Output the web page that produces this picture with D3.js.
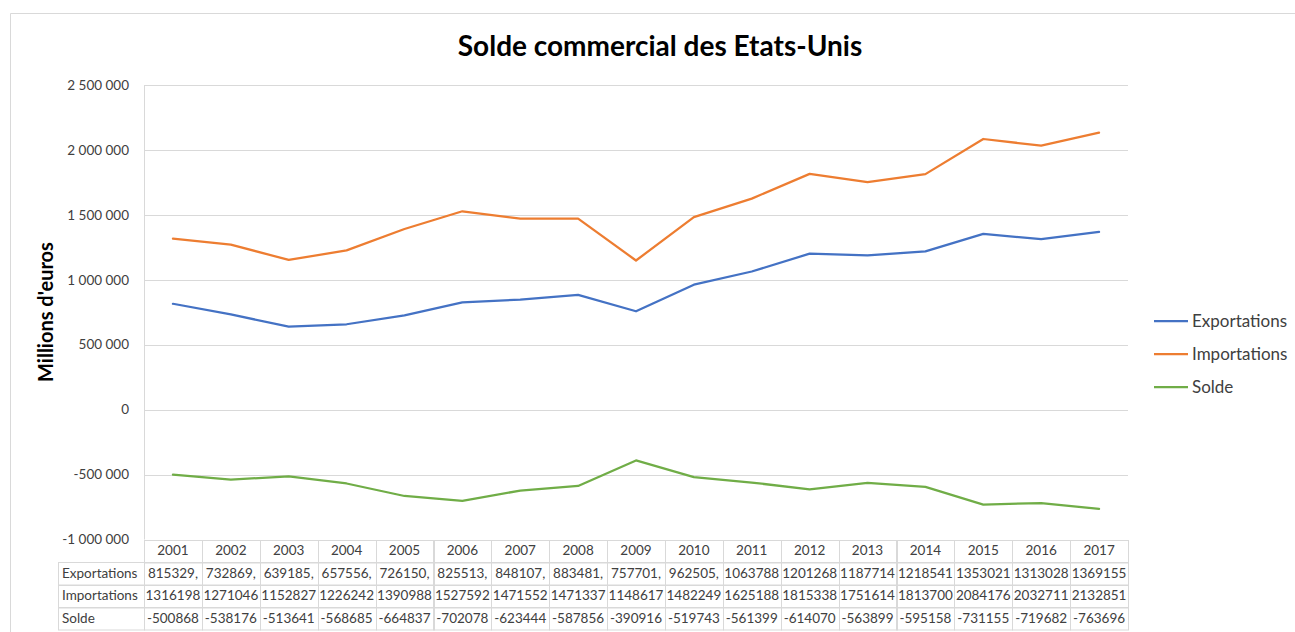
<!DOCTYPE html>
<html>
<head>
<meta charset="utf-8">
<script src="https://cdn.jsdelivr.net/npm/d3@7"></script>
<style>
  body { margin: 0; background: #fff; }
  svg { font-family: Lato, "Open Sans", sans-serif; }
  .grid line { stroke: #d9d9d9; stroke-width: 1; }
  .tick-label { font-size: 13.5px; fill: #404040; }
  .cell { font-size: 13.5px; fill: #404040; }
  .legend-label { font-size: 17px; fill: #404040; }
</style>
</head>
<body>
<svg id="chart"></svg>
<script>
// Data
var years = [2001, 2002, 2003, 2004, 2005, 2006, 2007, 2008, 2009, 2010, 2011, 2012, 2013, 2014, 2015, 2016, 2017];
var exportations = [815329, 732869, 639185, 657556, 726150, 825513, 848107, 883481, 757701, 962505, 1063788, 1201268, 1187714, 1218541, 1353021, 1313028, 1369155];
var importations = [1316198, 1271046, 1152827, 1226242, 1390988, 1527592, 1471552, 1471337, 1148617, 1482249, 1625188, 1815338, 1751614, 1813700, 2084176, 2032711, 2132851];
var solde = [-500868, -538176, -513641, -568685, -664837, -702078, -623444, -587856, -390916, -519743, -561399, -614070, -563899, -595158, -731155, -719682, -763696];
var yTicks = [-1000000, -500000, 0, 500000, 1000000, 1500000, 2000000, 2500000];
var seriesNames = ["Exportations", "Importations", "Solde"];
var seriesColors = ["#4472c4", "#ed7d31", "#70ad47"];

var width = 1295;
var height = 632;

var svg = d3.select("#chart")
    .attr("width", width)
    .attr("height", height);

// chart frame
svg.append("path")
    .attr("d", "M10.5," + height + "V13.5H" + width)
    .attr("fill", "none")
    .attr("stroke", "#d9d9d9");

var plotLeft = 144, plotRight = 1128, plotTop = 85, plotBottom = 539.5;

var x = d3.scaleBand()
    .domain(years)
    .range([plotLeft, plotRight]);

var y = d3.scaleLinear()
    .domain([-1000000, 2500000])
    .range([plotBottom, plotTop]);

// gridlines
var grid = svg.append("g").attr("class", "grid");
grid.selectAll("line")
    .data(yTicks)
    .enter().append("line")
    .attr("x1", plotLeft)
    .attr("x2", plotRight)
    .attr("y1", function (d) { return Math.round(y(d)) + 0.5; })
    .attr("y2", function (d) { return Math.round(y(d)) + 0.5; });

// vertical axis line
svg.append("line")
    .attr("x1", plotLeft + 0.5).attr("x2", plotLeft + 0.5)
    .attr("y1", plotTop).attr("y2", plotBottom)
    .attr("stroke", "#d9d9d9");

// y tick labels, french format with spaces
var fmt = function (d) {
    return d3.format(",")(d).replace(/,/g, "\u00a0").replace("\u2212", "-");
};
svg.selectAll(".tick-label")
    .data(yTicks)
    .enter().append("text")
    .attr("class", "tick-label")
    .attr("x", 129)
    .attr("y", function (d) { return y(d); })
    .attr("dy", "0.35em")
    .attr("text-anchor", "end")
    .text(fmt);

// title
svg.append("text")
    .attr("x", 660)
    .attr("y", 56)
    .attr("text-anchor", "middle")
    .style("font-size", "28px")
    .style("font-weight", "bold")
    .style("fill", "#000")
    .text("Solde commercial des Etats-Unis");

// y axis title
svg.append("text")
    .attr("transform", "translate(53,312) rotate(-90)")
    .attr("text-anchor", "middle")
    .style("font-size", "20px")
    .style("font-weight", "bold")
    .style("fill", "#000")
    .text("Millions d'euros");

// lines
var allSeries = [exportations, importations, solde];
var line = d3.line()
    .x(function (d, i) { return x(years[i]) + x.bandwidth() / 2; })
    .y(function (d) { return y(d); });

svg.selectAll(".series")
    .data(allSeries)
    .enter().append("path")
    .attr("class", "series")
    .attr("d", line)
    .attr("fill", "none")
    .attr("stroke", function (d, i) { return seriesColors[i]; })
    .attr("stroke-width", 2.25)
    .attr("stroke-linejoin", "round")
    .attr("stroke-linecap", "round");

// legend
var legend = svg.selectAll(".legend")
    .data(seriesNames)
    .enter().append("g")
    .attr("class", "legend")
    .attr("transform", function (d, i) { return "translate(1154," + (321 + i * 33) + ")"; });
legend.append("line")
    .attr("x1", 0).attr("x2", 34)
    .attr("stroke", function (d, i) { return seriesColors[i]; })
    .attr("stroke-width", 2.25);
legend.append("text")
    .attr("class", "legend-label")
    .attr("x", 38)
    .attr("dy", "0.35em")
    .text(function (d) { return d; });

// data table
var rowH = 22.5;
var tableTop = plotBottom;
var labelLeft = 58;
var tbl = svg.append("g").attr("stroke", "#d9d9d9").attr("fill", "none");

// header row cells
years.forEach(function (yr) {
    tbl.append("rect")
        .attr("x", Math.round(x(yr)) + 0.5)
        .attr("y", Math.round(tableTop) + 0.5)
        .attr("width", Math.round(x.bandwidth()))
        .attr("height", rowH);
});
// data rows
allSeries.forEach(function (s, r) {
    var top = tableTop + rowH * (r + 1);
    tbl.append("rect")
        .attr("x", labelLeft + 0.5)
        .attr("y", Math.round(top) + 0.5)
        .attr("width", plotLeft - labelLeft)
        .attr("height", rowH);
    years.forEach(function (yr) {
        tbl.append("rect")
            .attr("x", Math.round(x(yr)) + 0.5)
            .attr("y", Math.round(top) + 0.5)
            .attr("width", Math.round(x.bandwidth()))
            .attr("height", rowH);
    });
});

svg.selectAll(".year-cell")
    .data(years)
    .enter().append("text")
    .attr("class", "cell year-cell")
    .attr("x", function (d) { return x(d) + x.bandwidth() / 2; })
    .attr("y", tableTop + rowH / 2)
    .attr("dy", "0.35em")
    .attr("text-anchor", "middle")
    .text(function (d) { return d; });

seriesNames.forEach(function (name, r) {
    var cy = tableTop + rowH * (r + 1) + rowH / 2;
    svg.append("text")
        .attr("class", "cell")
        .attr("x", labelLeft + 4)
        .attr("y", cy)
        .attr("dy", "0.35em")
        .text(name);
    svg.selectAll(".row" + r)
        .data(allSeries[r])
        .enter().append("text")
        .attr("class", "cell row" + r)
        .attr("x", function (d, i) { return x(years[i]) + x.bandwidth() / 2; })
        .attr("y", cy)
        .attr("dy", "0.35em")
        .attr("text-anchor", "middle")
        .text(function (d) {
            // exports under a million show a cut decimal comma in the source
            return (r === 0 && d < 1000000) ? d + "," : d;
        });
});
</script>
</body>
</html>
